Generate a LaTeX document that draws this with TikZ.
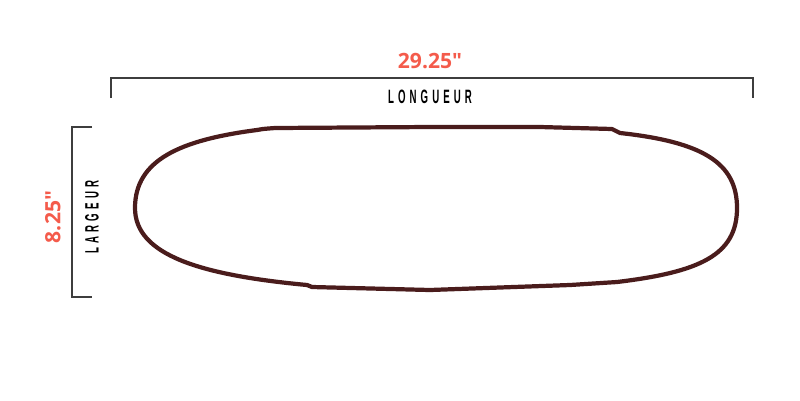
\documentclass[tikz,border=0pt]{standalone}
\usepackage{fontspec}
\setmainfont{Open Sans}
\newfontfamily\labelfont[FakeStretch=0.5,LetterSpace=21]{Liberation Sans}
\usetikzlibrary{positioning}
\definecolor{dimred}{HTML}{F45B4B}
\definecolor{deckbrown}{HTML}{4A1C1C}
\definecolor{rulegray}{HTML}{3E3E3E}
\tikzset{
  x=0.02cm,
  y=-0.02cm,
  measure/.style={
      font=\bfseries\fontsize{12}{14}\selectfont,
      text=dimred,
      inner sep=0pt
    },
  caption/.style={
      font=\labelfont\bfseries\fontsize{11}{13}\selectfont,
      inner sep=0pt
    },
  bracket/.style={
      draw=rulegray,
      line width=1.1pt
    },
  deck/.style={
      draw=deckbrown,
      line width=2.4pt,
      line join=round
    }
}
\begin{document}
\begin{tikzpicture}
  \useasboundingbox (0,0) rectangle (800,400);
  % length bracket
  \coordinate (lenA) at (111,98); \coordinate (lenB) at (753,98);
  \draw[bracket] (lenA) -- (111,78) -- (753,78) -- (lenB);
  \node[measure] (lenval) at (430,61) {29.25\textquotedbl};
  \node[caption] (lenlbl) at (430,97) {LONGUEUR};
  % width bracket
  \coordinate (widA) at (92,127); \coordinate (widB) at (92,297);
  \draw[bracket] (widA) -- (72,127) -- (72,297) -- (widB);
  \node[measure, rotate=90] (widval) at (53,217) {8.25\textquotedbl};
  \node[caption, rotate=90] (widlbl) at (92,217) {LARGEUR};
  % deck outline
  \draw[deck] (257,130) .. controls (262,129) .. (275,128) -- (430,127) -- (540,127) -- (612,129)
    -- (620,133) .. controls (703,142) and (737,163) .. (737,208)
    .. controls (737,255) and (700,272) .. (617,282)
    -- (570,285) -- (430,290) -- (312,287) -- (307,285)
    .. controls (200,275) and (135,255) .. (135,208)
    .. controls (135,160) and (180,140) .. cycle;
\end{tikzpicture}
\end{document}
